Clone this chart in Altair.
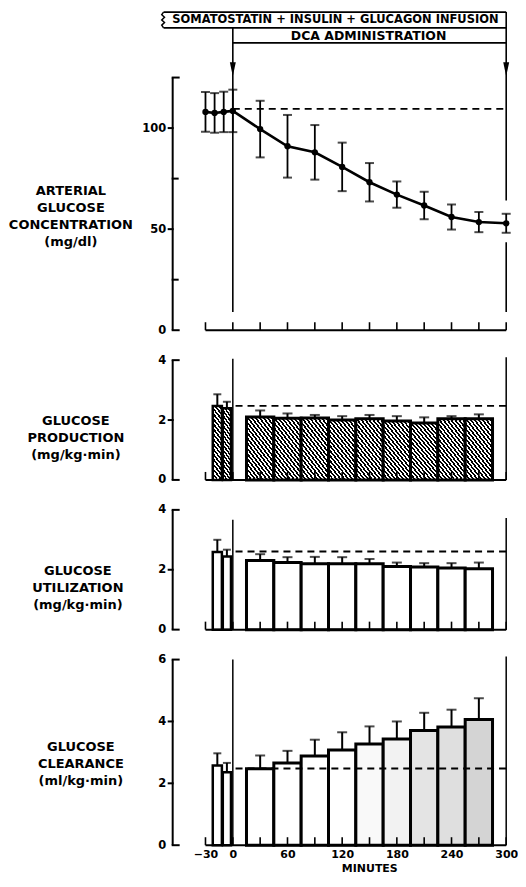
import math
import altair as alt
import pandas as pd

# ---------------- data ----------------
gluc_t = [-30, -20, -10, 0, 30, 60, 90, 120, 150, 180, 210, 240, 270, 300]
gluc_mean = [108, 107.5, 108, 108.5, 99.5, 91, 88, 80.8, 73.2, 67.1, 61.7, 56, 53.5, 52.9]
gluc_sem = [9.8, 9.8, 10, 10.5, 14, 15.5, 13.5, 12, 9.5, 6.5, 6.8, 6.2, 5, 4.7]
gluc_basal = 109.5

base_start = [-22, -11]
base_end = [-12, -2]
period_t = [30, 60, 90, 120, 150, 180, 210, 240, 270]

prod_base = [2.47, 2.39]
prod_base_sem = [0.39, 0.22]
prod_mean = [2.10, 2.06, 2.07, 2.00, 2.04, 1.97, 1.90, 2.04, 2.04]
prod_sem = [0.22, 0.16, 0.10, 0.13, 0.13, 0.16, 0.19, 0.09, 0.15]
prod_basal = 2.47

util_base = [2.59, 2.44]
util_base_sem = [0.41, 0.23]
util_mean = [2.31, 2.24, 2.20, 2.20, 2.20, 2.11, 2.09, 2.06, 2.03]
util_sem = [0.21, 0.18, 0.23, 0.22, 0.16, 0.13, 0.13, 0.16, 0.21]
util_basal = 2.61

clear_base = [2.58, 2.36]
clear_base_sem = [0.39, 0.30]
clear_mean = [2.47, 2.66, 2.88, 3.08, 3.27, 3.43, 3.71, 3.82, 4.06]
clear_sem = [0.43, 0.39, 0.53, 0.57, 0.57, 0.57, 0.57, 0.56, 0.69]
clear_basal = 2.48

x_ticks = list(range(-30, 301, 30))
x_labels = [-30, 0, 60, 120, 180, 240, 300]

infusion_text = "SOMATOSTATIN + INSULIN + GLUCAGON INFUSION"
dca_text = "DCA ADMINISTRATION"

# ---------------- layout / style ----------------
W = 336
XDOM = [-66, 302]
FONT = "DejaVu Sans"
H1, H2, H3, H4 = 320, 120, 120, 186
Y1TOP = 158


def make_X(axis=None):
    def X(field):
        return alt.X(field, type="quantitative",
                     scale=alt.Scale(domain=XDOM, nice=False, zero=False), axis=axis)
    return X


def make_Y(domain, values):
    ax = alt.Axis(values=values, domain=False, ticks=False, grid=False, title=None,
                  labelFont=FONT, labelFontSize=11.5, labelFontWeight="bold",
                  labelColor="black", labelPadding=7)

    def Y(field):
        return alt.Y(field, type="quantitative",
                     scale=alt.Scale(domain=domain, nice=False, zero=False), axis=ax)
    return Y


def one():
    return pd.DataFrame({"a": [0]})


def y_axis_layers(Y, top, caps, lticks, rticks):
    layers = [
        alt.Chart(pd.DataFrame({"lo": [0], "hi": [top]})).mark_rule(color="black", strokeWidth=2)
        .encode(x=alt.value(0), y=Y("lo"), y2=alt.Y2("hi")),
        alt.Chart(pd.DataFrame({"v": caps})).mark_rule(color="black", strokeWidth=2)
        .encode(x=alt.value(-1), x2=alt.value(7), y=Y("v")),
    ]
    if lticks:
        layers.append(alt.Chart(pd.DataFrame({"v": lticks})).mark_rule(color="black", strokeWidth=2)
                      .encode(x=alt.value(-5), x2=alt.value(1), y=Y("v")))
    if rticks:
        layers.append(alt.Chart(pd.DataFrame({"v": rticks})).mark_rule(color="black", strokeWidth=2)
                      .encode(x=alt.value(-1), x2=alt.value(6), y=Y("v")))
    return layers


def x_axis_layers(X, Y, h):
    return [
        alt.Chart(pd.DataFrame({"a": [-30], "b": [300], "z": [0]})).mark_rule(color="black", strokeWidth=2)
        .encode(x=X("a"), x2=alt.X2("b"), y=Y("z")),
        alt.Chart(pd.DataFrame({"t": x_ticks, "z": [0] * len(x_ticks)})).mark_rule(color="black", strokeWidth=1.6)
        .encode(x=X("t"), y=Y("z"), y2=alt.value(h - 8)),
    ]


def panel_label(text, xpx, ypx, lh=17):
    return alt.Chart(one()).mark_text(font=FONT, fontSize=13, fontWeight="bold", color="black",
                                      align="center", baseline="middle", lineBreak="\n",
                                      lineHeight=lh).encode(
        x=alt.value(xpx), y=alt.value(ypx), text=alt.value(text))


def hatch(wpx, hpx, theta_deg=52, period=3.1, black=0.5):
    th = math.radians(theta_deg)
    a = wpx * math.sin(th)
    b = -hpx * math.cos(th)
    s = (a - b) / (a * a + b * b)
    n = max(1, round((a - b) / period))
    stops = []
    for i in range(n):
        o0, o1, o2 = i / n, (i + black) / n, (i + 1) / n
        stops += [alt.GradientStop(offset=o0, color="black"), alt.GradientStop(offset=o1, color="black"),
                  alt.GradientStop(offset=o1, color="white"), alt.GradientStop(offset=min(o2, 1), color="white")]
    return alt.LinearGradient(gradient="linear", stops=stops, x1=0, y1=1, x2=s * a, y2=1 + s * b)


# ---------------- panel 1: arterial glucose ----------------
X1 = make_X()
Y1 = make_Y([0, Y1TOP], [0, 50, 100])

gdf = pd.DataFrame({"t": gluc_t, "mean": gluc_mean, "sem": gluc_sem})
gdf["lo"] = gdf["mean"] - gdf["sem"]
gdf["hi"] = gdf["mean"] + gdf["sem"]

hdr_h = pd.DataFrame({"a": [-76, -76, 0], "b": [300, 300, 300], "v": [157.4, 149.6, 142.2]})
hdr_v = pd.DataFrame({"x": [0, 300, 300], "y1": [149.6, 157.4, 43.5], "y2": [9, 64.2, 9]})
zig = pd.DataFrame({"x": [-76, -78, -75, -78, -75, -78, -76],
                    "y": [157.4, 156.1, 154.8, 153.5, 152.2, 150.9, 149.6], "o": list(range(7))})
arrows = pd.DataFrame({"x": [0, 300], "y": [129.1, 129.1]})
hdr_txt = pd.DataFrame({"x": [112.6, 149], "y": [153.5, 145.7], "label": [infusion_text, dca_text]})

p1_layers = y_axis_layers(Y1, 125, [0, 125], [50, 100], [25, 75]) + x_axis_layers(X1, Y1, H1) + [
    alt.Chart(hdr_h).mark_rule(color="black", strokeWidth=1.8).encode(x=X1("a"), x2=alt.X2("b"), y=Y1("v")),
    alt.Chart(hdr_v).mark_rule(color="black", strokeWidth=1.6).encode(x=X1("x"), y=Y1("y1"), y2=alt.Y2("y2")),
    alt.Chart(zig).mark_line(color="black", strokeWidth=1.5).encode(x=X1("x"), y=Y1("y"), order="o:Q"),
    alt.Chart(arrows).mark_point(shape="M-0.42,-1L0.42,-1L0,1Z", size=200, filled=True, color="black",
                                 opacity=1).encode(x=X1("x"), y=Y1("y")),
    alt.Chart(hdr_txt.iloc[[0]]).mark_text(font=FONT, fontSize=11.5, fontWeight="bold", color="black",
                                           baseline="middle").encode(x=X1("x"), y=Y1("y"), text="label"),
    alt.Chart(hdr_txt.iloc[[1]]).mark_text(font=FONT, fontSize=12.5, fontWeight="bold", color="black",
                                           baseline="middle").encode(x=X1("x"), y=Y1("y"), text="label"),
    alt.Chart(pd.DataFrame({"a": [0], "b": [300], "v": [gluc_basal]})).mark_rule(
        color="black", strokeWidth=1.8, strokeDash=[7, 5]).encode(x=X1("a"), x2=alt.X2("b"), y=Y1("v")),
    alt.Chart(gdf).mark_rule(color="black", strokeWidth=1.8).encode(x=X1("t"), y=Y1("lo"), y2=alt.Y2("hi")),
    alt.Chart(gdf).mark_tick(orient="horizontal", size=9, thickness=2, color="black").encode(x=X1("t"), y=Y1("lo")),
    alt.Chart(gdf).mark_tick(orient="horizontal", size=9, thickness=2, color="black").encode(x=X1("t"), y=Y1("hi")),
    alt.Chart(gdf).mark_line(color="black", strokeWidth=2.6).encode(x=X1("t"), y=Y1("mean")),
    alt.Chart(gdf).mark_circle(color="black", size=40, opacity=1).encode(x=X1("t"), y=Y1("mean")),
    panel_label("ARTERIAL\nGLUCOSE\nCONCENTRATION\n(mg/dl)", -102, 181),
]
p1 = alt.layer(*p1_layers).properties(width=W, height=H1)


# ---------------- bar panels ----------------
def bar_frames(base, base_sem, mean, sem):
    b = pd.DataFrame({"start": base_start, "end": base_end, "mean": base, "sem": base_sem})
    m = pd.DataFrame({"t": period_t, "mean": mean, "sem": sem})
    m["start"] = m["t"] - 15
    m["end"] = m["t"] + 15
    for d in (b, m):
        d["zero"] = 0
        d["hi"] = d["mean"] + d["sem"]
        d["mid"] = (d["start"] + d["end"]) / 2
    return b, m


def bar_panel(X, Y, h, ymax, lticks, base, base_sem, mean, sem, basal, vtops,
              label, lx, ly, fill_main, fill_base, fill_enc=None):
    b, m = bar_frames(base, base_sem, mean, sem)
    main_mark = dict(stroke="black", strokeWidth=3)
    if fill_main is not None:
        main_mark["fill"] = fill_main
    base_mark = dict(stroke="black", strokeWidth=2.5)
    if fill_base is not None:
        base_mark["fill"] = fill_base
    main_enc = dict(x=X("start"), x2=alt.X2("end"), y=Y("zero"), y2=alt.Y2("mean"))
    base_enc = dict(main_enc)
    if fill_enc is not None:
        main_enc["fill"] = fill_enc
        base_enc["fill"] = fill_enc
    vl = pd.DataFrame({"x": [0, 300], "y1": vtops, "y2": [0, 0]})
    layers = y_axis_layers(Y, ymax, [0, ymax], lticks, []) + [
        alt.Chart(vl).mark_rule(color="black", strokeWidth=1.5).encode(x=X("x"), y=Y("y1"), y2=alt.Y2("y2")),
        alt.Chart(m).mark_rule(color="black", strokeWidth=2).encode(x=X("t"), y=Y("mean"), y2=alt.Y2("hi")),
        alt.Chart(m).mark_tick(orient="horizontal", size=10, thickness=2, color="black").encode(x=X("t"), y=Y("hi")),
        alt.Chart(b).mark_rule(color="black", strokeWidth=2).encode(x=X("mid"), y=Y("mean"), y2=alt.Y2("hi")),
        alt.Chart(b).mark_tick(orient="horizontal", size=8, thickness=2, color="black").encode(x=X("mid"), y=Y("hi")),
        alt.Chart(m).mark_bar(**main_mark).encode(**main_enc),
        alt.Chart(b).mark_bar(**base_mark).encode(**base_enc),
        alt.Chart(pd.DataFrame({"a": [3], "b": [300], "v": [basal]})).mark_rule(
            color="black", strokeWidth=1.8, strokeDash=[7, 5]).encode(x=X("a"), x2=alt.X2("b"), y=Y("v")),
    ] + x_axis_layers(X, Y, h) + [panel_label(label, lx, ly)]
    return alt.layer(*layers).properties(width=W, height=h)


Xn = make_X()
Y2 = make_Y([0, 4], [0, 2, 4])
p2 = bar_panel(Xn, Y2, H2, 4, [2], prod_base, prod_base_sem, prod_mean, prod_sem, prod_basal,
               [4.05, 4.1], "GLUCOSE\nPRODUCTION\n(mg/kg·min)", -97, 61,
               hatch(27.4, 61), hatch(9.2, 73))

Y3 = make_Y([0, 4], [0, 2, 4])
p3 = bar_panel(Xn, Y3, H3, 4, [2], util_base, util_base_sem, util_mean, util_sem, util_basal,
               [3.67, 3.73], "GLUCOSE\nUTILIZATION\n(mg/kg·min)", -95, 61, "white", "white")

X4 = make_X(alt.Axis(values=x_labels, domain=False, ticks=False, grid=False, title="MINUTES",
                     labelFont=FONT, labelFontSize=11, labelFontWeight="bold", labelColor="black",
                     labelPadding=3, titleFont=FONT, titleFontSize=11, titleFontWeight="bold",
                     titleColor="black", titlePadding=3, titleX=197))
Y4 = make_Y([0, 6], [0, 2, 4, 6])
clear_fill = alt.Fill("mean:Q", scale=alt.Scale(domain=[3.15, 4.1], range=["#ffffff", "#d2d2d2"], clamp=True),
                      legend=None)
p4 = bar_panel(X4, Y4, H4, 6, [2, 4], clear_base, clear_base_sem, clear_mean, clear_sem,
               clear_basal, [6.0, 6.1], "GLUCOSE\nCLEARANCE\n(ml/kg·min)", -92, 88, None, None, clear_fill)

chart = alt.vconcat(p1, p2, p3, p4, spacing=30, bounds="flush").properties(
    padding={"left": 0, "top": 0, "right": 0, "bottom": 0}
).configure_view(stroke=None)

chart.save("out.html", embed_options={"renderer": "svg", "actions": False})
